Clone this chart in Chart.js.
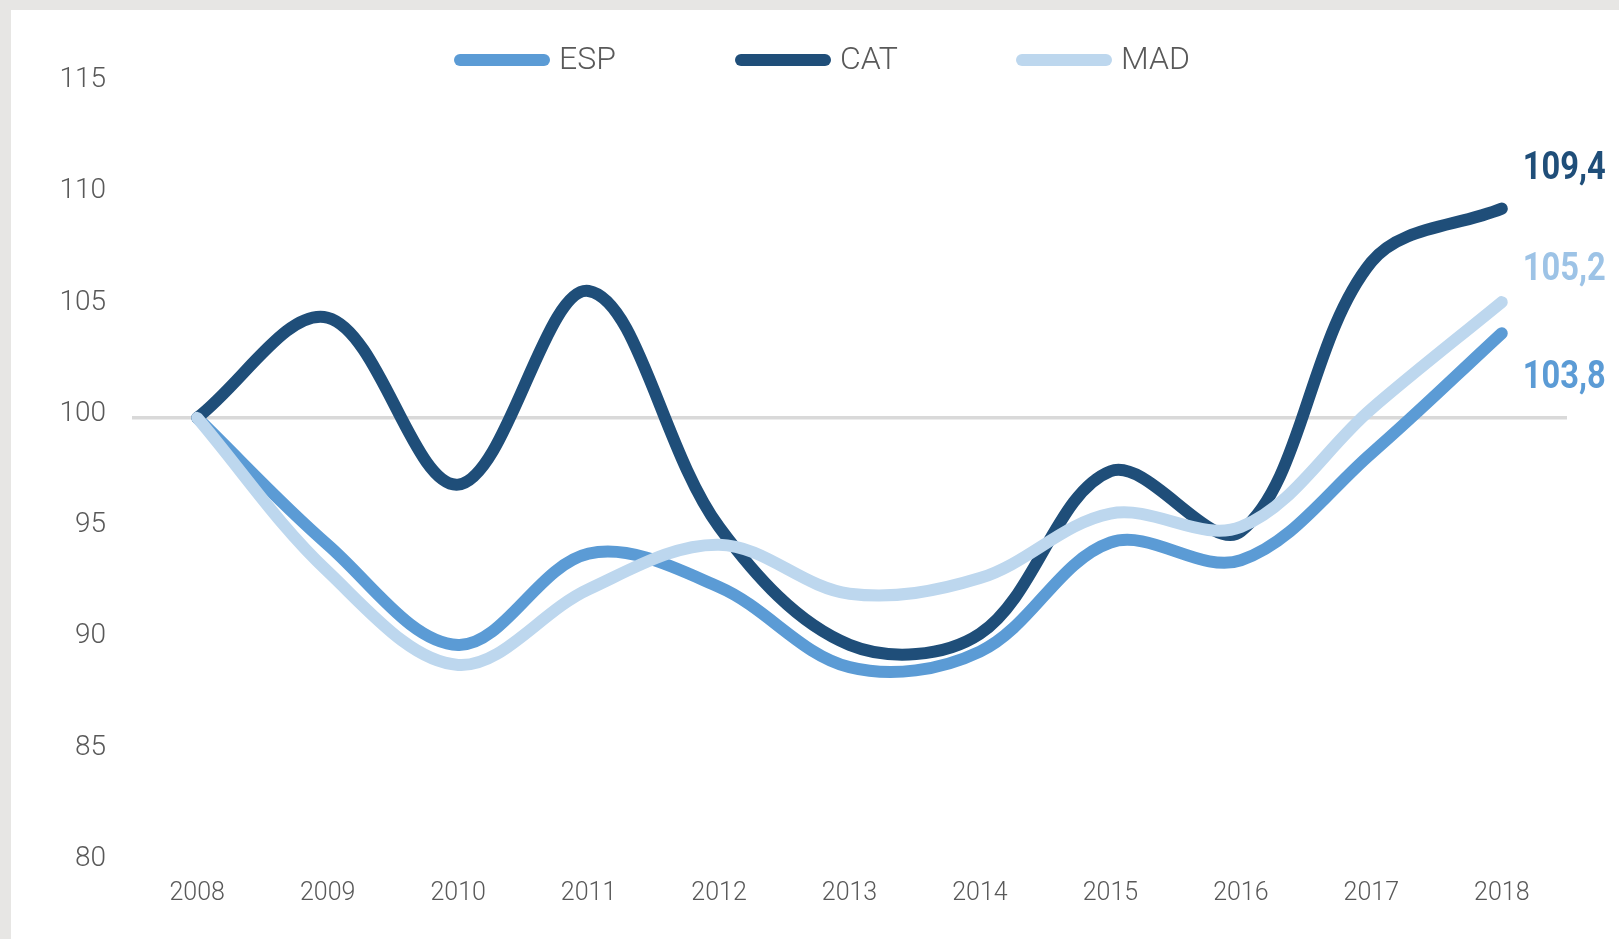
<!DOCTYPE html>
<html>
<head>
<meta charset="utf-8">
<script src="https://cdn.jsdelivr.net/npm/chart.js@4"></script>
<style>
  html, body { margin: 0; padding: 0; background: #E7E6E4; width: 1619px; height: 939px; overflow: hidden; }
  #wrap { position: absolute; left: 11px; top: 10px; width: 1608px; height: 929px; background: #ffffff; }
  canvas { display: block; }
</style>
</head>
<body>
<div id="wrap"><canvas id="c" width="1608" height="929"></canvas></div>
<script>
const years = ['2008','2009','2010','2011','2012','2013','2014','2015','2016','2017','2018'];
const espValues = [100, 94.3, 89.8, 93.9, 92.4, 88.8, 89.5, 94.4, 93.6, 98.4, 103.8];
const catValues = [100, 104.5, 97.0, 105.7, 95.1, 89.8, 90.3, 97.6, 94.9, 107.0, 109.4];
const madValues = [100, 93.1, 88.9, 92.3, 94.3, 92.1, 92.8, 95.7, 95.1, 100.4, 105.2];
const seriesNames = ['ESP', 'CAT', 'MAD'];
const endLabels = ['103,8', '109,4', '105,2'];
const yMin = 80, yMax = 115, yStep = 5;

const lineColors = ['#5B9BD5', '#1F4E79', '#BDD7EE'];
const labelColors = ['#5B9BD5', '#1F4E79', '#9DC3E6'];
const labelDy = [45, -39, -32];

const valueSets = [espValues, catValues, madValues];
const datasets = seriesNames.map((n, i) => ({
  label: n,
  data: valueSets[i],
  borderColor: lineColors[i],
  backgroundColor: lineColors[i],
  borderWidth: 12,
  borderCapStyle: 'round',
  borderJoinStyle: 'round',
  pointRadius: 0,
  pointHoverRadius: 0,
  tension: 0.35,
  fill: false,
  order: 2 - i
}));

const decorPlugin = {
  id: 'decor',
  afterDraw(chart) {
    const ctx = chart.ctx;
    // legend
    ctx.save();
    const startX = 443, stepX = 281, cy = 50, sw = 96, sh = 12;
    chart.data.datasets.forEach((ds, i) => {
      const x = startX + i * stepX;
      ctx.strokeStyle = ds.borderColor;
      ctx.lineWidth = sh;
      ctx.lineCap = 'round';
      ctx.beginPath();
      ctx.moveTo(x + sh / 2, cy);
      ctx.lineTo(x + sw - sh / 2, cy);
      ctx.stroke();
      ctx.fillStyle = '#595959';
      ctx.font = '300 32px Roboto, "Noto Sans", sans-serif';
      ctx.textAlign = 'left';
      ctx.textBaseline = 'middle';
      ctx.fillText(ds.label, x + sw + 9, cy + 1);
    });
    // end labels (condensed bold)
    chart.data.datasets.forEach((ds, i) => {
      const meta = chart.getDatasetMeta(i);
      const pt = meta.data[meta.data.length - 1];
      ctx.save();
      ctx.fillStyle = labelColors[i];
      ctx.font = 'bold 38px Roboto, sans-serif';
      ctx.textAlign = 'left';
      ctx.textBaseline = 'middle';
      const w = ctx.measureText(endLabels[i]).width;
      const sx = Math.min(1, 83 / w);
      ctx.translate(pt.x + 21, pt.y + labelDy[i]);
      ctx.scale(sx, 1);
      ctx.fillText(endLabels[i], 0, 0);
      ctx.restore();
    });
    ctx.restore();
  }
};

new Chart(document.getElementById('c'), {
  type: 'line',
  data: { labels: years, datasets: datasets },
  options: {
    responsive: false,
    animation: false,
    devicePixelRatio: 1,
    layout: { padding: { top: 74, right: 52, left: 0, bottom: 0 } },
    plugins: { legend: { display: false }, tooltip: { enabled: false } },
    scales: {
      x: {
        offset: true,
        grid: { display: false, drawTicks: false },
        border: { display: false },
        ticks: { color: '#595959', font: { family: 'Roboto', size: 25, weight: 300 }, padding: 16, maxRotation: 0, autoSkip: false },
        afterFit(s) { s.height = 76; }
      },
      y: {
        min: yMin, max: yMax,
        grid: {
          drawTicks: false,
          color: (c) => (c.tick && c.tick.value === 100) ? '#D9D9D9' : 'rgba(0,0,0,0)',
          lineWidth: 3.5
        },
        border: { display: false },
        ticks: { stepSize: yStep, color: '#595959', font: { family: 'Roboto', size: 28, weight: 300 }, padding: 26, labelOffset: -4 },
        afterFit(s) { s.width = 121; }
      }
    }
  },
  plugins: [decorPlugin]
});
</script>
</body>
</html>
